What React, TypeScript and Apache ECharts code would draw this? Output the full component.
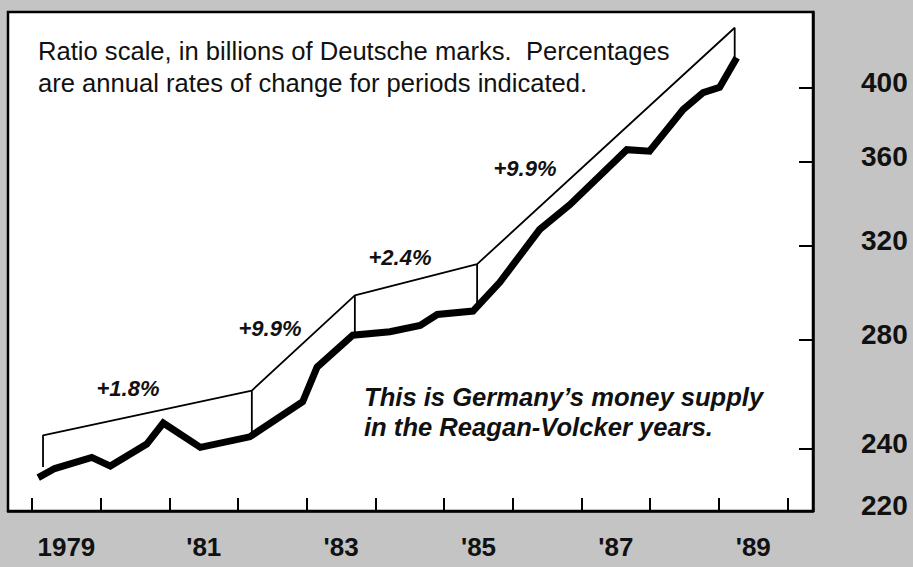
import React, { useEffect, useRef } from "react";
import * as echarts from "echarts";

// Money supply (billions of DM): decimal year / value
const supplyYears = [1979.09, 1979.33, 1979.87, 1980.14, 1980.67, 1980.91, 1981.45, 1982.17, 1982.94, 1983.15, 1983.67, 1984.21, 1984.65, 1984.9, 1985.42, 1985.81, 1986.39, 1986.83, 1987.66, 1987.99, 1988.48, 1988.77, 1989.01, 1989.26];
const supplyValues = [230.4, 233.4, 237.1, 234.2, 241.6, 248.9, 240.5, 244.1, 256.5, 269.4, 281.8, 283.2, 285.7, 290.2, 291.6, 303.7, 327.2, 338.9, 366.3, 365.5, 387.7, 397.1, 400, 417.2];

// Trend envelope break points
const trendYears = [1979.16, 1982.2, 1983.7, 1985.48, 1989.23];
const trendTops = [244.6, 260.6, 298.1, 311.6, 435.2];
const trendBases = [233.9, 244.3, 282, 291.6, 414];
const growthLabels = ["+1.8%", "+9.9%", "+2.4%", "+9.9%"];

// Axes
const yearTicks = [1979, 1980, 1981, 1982, 1983, 1984, 1985, 1986, 1987, 1988, 1989, 1990];
const yearLabelPos = [1979.5, 1981.5, 1983.5, 1985.5, 1987.5, 1989.5];
const yearLabels = ["1979", "'81", "'83", "'85", "'87", "'89"];
const valueTicks = [240, 280, 320, 360, 400];
const valueLabels = [220, 240, 280, 320, 360, 400];

const titleLines = [
  "Ratio scale, in billions of Deutsche marks.  Percentages",
  "are annual rates of change for periods indicated.",
];
const noteLines = ["This is Germany\u2019s money supply", "in the Reagan-Volcker years."];

const FONT = "'Liberation Sans', Arial, Helvetica, sans-serif";

export default function App() {
  const ref = useRef<HTMLDivElement>(null);
  useEffect(() => {
    if (!ref.current) return;
    const chart = echarts.init(ref.current, null, { renderer: "svg" });

    const supply = supplyYears.map((y, i) => [y, supplyValues[i]]);
    const trend: number[][] = [];
    trendYears.forEach((y, i) => {
      if (i === 0) {
        trend.push([y, trendBases[i]]);
        trend.push([y, trendTops[i]]);
      } else if (i === trendYears.length - 1) {
        trend.push([y, trendTops[i]]);
        trend.push([y, trendBases[i]]);
      } else {
        trend.push([y, trendTops[i]]);
        trend.push([y, trendBases[i]]);
        trend.push([y, trendTops[i]]);
      }
    });

    const growthPos = [
      [128, 388],
      [270, 328],
      [400, 257],
      [525, 168],
    ];

    chart.setOption({
      animation: false,
      backgroundColor: "#c4c4c4",
      grid: {
        left: 8,
        right: 100,
        top: 12,
        bottom: 56,
        show: true,
        backgroundColor: "#ffffff",
        borderColor: "#000",
        borderWidth: 2.5,
      },
      xAxis: {
        type: "value",
        min: 1978.65,
        max: 1990.37,
        splitLine: { show: false },
        axisLine: { show: true, lineStyle: { color: "#000", width: 2.5 } },
        axisTick: {
          show: true,
          inside: true,
          length: 13,
          customValues: yearTicks,
          lineStyle: { color: "#000", width: 2 },
        },
        axisLabel: {
          customValues: yearLabelPos,
          margin: 23,
          formatter: (v: number) => {
            const i = yearLabelPos.findIndex((p) => Math.abs(p - v) < 0.01);
            return i >= 0 ? yearLabels[i] : "";
          },
          fontFamily: FONT,
          fontWeight: "bold",
          fontSize: 26,
          color: "#111",
        },
      },
      yAxis: {
        type: "log",
        logBase: 10,
        position: "right",
        min: 219.8,
        max: 445,
        splitLine: { show: false },
        axisLine: { show: true, lineStyle: { color: "#000", width: 2.5 } },
        axisTick: {
          show: true,
          inside: true,
          length: 14,
          customValues: valueTicks,
          lineStyle: { color: "#000", width: 2 },
        },
        axisLabel: {
          customValues: valueLabels,
          margin: 48,
          verticalAlign: "bottom",
          lineHeight: 10,
          fontFamily: FONT,
          fontWeight: "bold",
          fontSize: 28,
          color: "#111",
        },
      },
      series: [
        {
          type: "line",
          data: trend,
          symbol: "none",
          lineStyle: { color: "#000", width: 1.8 },
          z: 3,
        },
        {
          type: "line",
          data: supply,
          symbol: "none",
          lineStyle: { color: "#000", width: 7, join: "miter", cap: "butt" },
          z: 4,
        },
      ],
      graphic: [
        ...titleLines.map((t, i) => ({
          type: "text",
          left: 38,
          top: 38 + i * 32,
          style: {
            text: t,
            fontFamily: FONT,
            fontSize: 25.6,
            fill: "#111",
          },
        })),
        ...growthLabels.map((t, i) => ({
          type: "text",
          x: growthPos[i][0],
          y: growthPos[i][1],
          style: {
            text: t,
            align: "center",
            verticalAlign: "middle",
            fontFamily: FONT,
            fontSize: 22,
            fontWeight: "bold",
            fontStyle: "italic",
            fill: "#111",
          },
        })),
        ...noteLines.map((t, i) => ({
          type: "text",
          left: 364,
          top: 384 + i * 30,
          style: {
            text: t,
            fontFamily: FONT,
            fontSize: 25.6,
            fontWeight: "bold",
            fontStyle: "italic",
            fill: "#111",
          },
        })),
      ],
    });
    return () => chart.dispose();
  }, []);
  return (
    <div
      ref={ref}
      style={{ position: "fixed", left: 0, top: 0, width: 913, height: 567 }}
    />
  );
}
